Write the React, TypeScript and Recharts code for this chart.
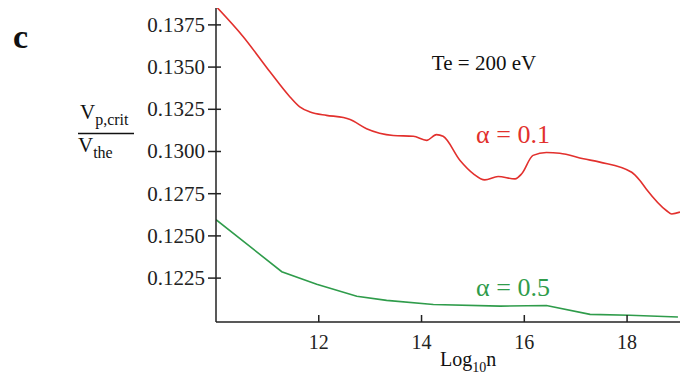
import React from 'react';
import { LineChart, Line, XAxis, YAxis } from 'recharts';

// log10 n vs Vp,crit / Vthe, alpha = 0.1
const redX = [10, 10.53, 11.05, 11.44, 11.63, 11.83, 12.15, 12.48, 12.61, 12.93, 13.45, 13.84, 14.1, 14.29, 14.42, 14.75, 15.01, 15.23, 15.49, 15.82, 15.95, 16.17, 16.43, 16.69, 17.15, 17.47, 18.09, 18.25, 18.38, 18.77, 18.87, 19.03];
const redY = [0.1386, 0.1368, 0.13472, 0.13323, 0.13264, 0.13234, 0.13214, 0.13201, 0.13189, 0.13135, 0.13095, 0.1309, 0.13066, 0.131, 0.1309, 0.12947, 0.12868, 0.12832, 0.12852, 0.12838, 0.12868, 0.12977, 0.12994, 0.1299, 0.12957, 0.12937, 0.12877, 0.12828, 0.12775, 0.12649, 0.1263, 0.12641];

// alpha = 0.5
const greenX = [10, 11.28, 11.96, 12.74, 13.32, 14.23, 15.53, 16.43, 17.28, 18.05, 18.99];
const greenY = [0.12596, 0.12288, 0.12213, 0.12143, 0.12118, 0.12094, 0.12084, 0.12088, 0.12035, 0.1203, 0.1202];

const xTicks = [12, 14, 16, 18];
const yTicks = [0.1225, 0.125, 0.1275, 0.13, 0.1325, 0.135, 0.1375];

const RED = '#e2302d';
const GREEN = '#2f9c4b';
const FONT = 'Liberation Serif';
const AXIS = '#222';

const redData = redX.map((x, i) => ({ x, y: redY[i] }));
const greenData = greenX.map((x, i) => ({ x, y: greenY[i] }));

// y ticks cross the axis line (8px out, 5px in)
const YTick = (props: any) => {
  const { x, y, payload } = props;
  return (
    <g>
      <line x1={x + 3} x2={x + 16} y1={y} y2={y} stroke={AXIS} strokeWidth={1.5} />
      <text x={x} y={y} dy={7} textAnchor="end" fontSize={21} fill={AXIS} fontFamily={FONT}>
        {payload.value.toFixed(4)}
      </text>
    </g>
  );
};

export default function App() {
  return (
    <div style={{ position: 'absolute', left: 0, top: 0, width: 691, height: 383, background: '#fff', fontFamily: FONT }}>
      <LineChart width={691} height={383} margin={{ top: 8, right: 11, left: 146, bottom: 31 }}>
        <XAxis
          type="number"
          dataKey="x"
          domain={[10, 19.03]}
          ticks={xTicks}
          allowDataOverflow
          height={30}
          tickSize={-7}
          tickMargin={20}
          stroke={AXIS}
          strokeWidth={1.5}
          tick={{ fontSize: 20, fill: AXIS, fontFamily: FONT }}
        />
        <YAxis
          type="number"
          dataKey="y"
          domain={[0.1199, 0.1385]}
          ticks={yTicks}
          allowDataOverflow
          width={70}
          tickSize={8}
          tickMargin={3}
          tickLine={false}
          stroke={AXIS}
          strokeWidth={1.5}
          tick={<YTick />}
        />
        <Line data={redData} dataKey="y" type="monotone" stroke={RED} strokeWidth={1.6} dot={false} isAnimationActive={false} />
        <Line data={greenData} dataKey="y" type="linear" stroke={GREEN} strokeWidth={1.6} dot={false} isAnimationActive={false} />
      </LineChart>
      <svg width={691} height={383} style={{ position: 'absolute', left: 0, top: 0, pointerEvents: 'none', fontFamily: FONT }}>
        <text x={13} y={48} fontSize={34} fontWeight="bold" fill="#111">c</text>
        <text x={484} y={70} fontSize={21} textAnchor="middle" fill="#111">Te = 200 eV</text>
        <text x={513} y={143} fontSize={26} textAnchor="middle" fill={RED}>α = 0.1</text>
        <text x={513} y={296} fontSize={26} textAnchor="middle" fill={GREEN}>α = 0.5</text>
        <text x={80} y={119} fontSize={21} fill="#111">
          V<tspan fontSize={16} dy={6}>p,crit</tspan>
        </text>
        <line x1={78} x2={134} y1={133.5} y2={133.5} stroke="#111" strokeWidth={1.5} />
        <text x={78} y={152} fontSize={21} fill="#111">
          V<tspan fontSize={16} dy={6}>the</tspan>
        </text>
        <text x={440} y={366} fontSize={20} fill="#111">
          Log<tspan fontSize={14} dy={6}>10</tspan><tspan dy={-6}>n</tspan>
        </text>
      </svg>
    </div>
  );
}
